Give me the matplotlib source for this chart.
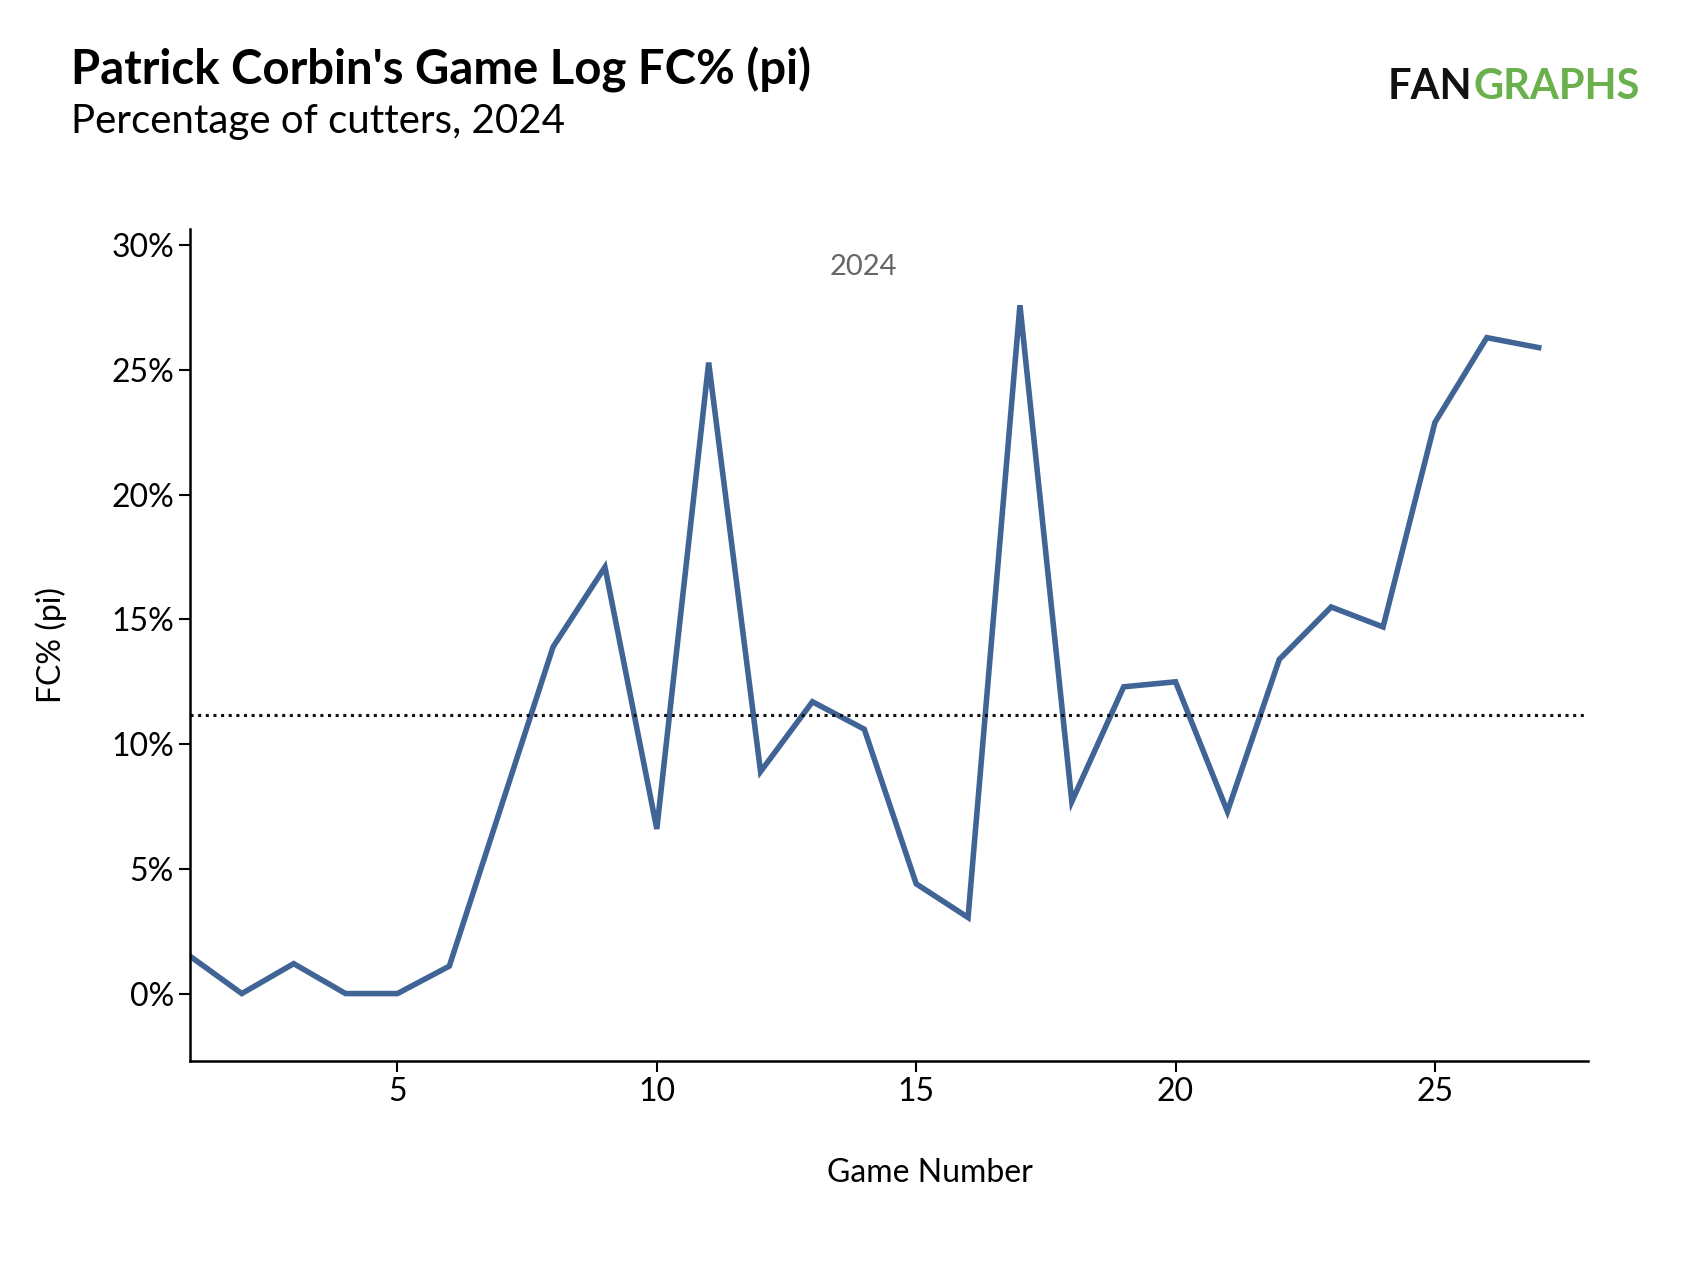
import matplotlib.pyplot as plt

plt.rcParams['font.family'] = 'Lato'

games = list(range(1, 28))
fc_pct = [1.5, 0.0, 1.2, 0.0, 0.0, 1.1, 7.5, 13.9, 17.1, 6.6, 25.3, 8.9, 11.7, 10.6,
          4.4, 3.05, 27.6, 7.7, 12.3, 12.5, 7.3, 13.4, 15.5, 14.7, 22.9, 26.3, 25.9]
season_avg = 11.15
y_ticks = [0, 5, 10, 15, 20, 25, 30]
x_ticks = [5, 10, 15, 20, 25]

fig = plt.figure(figsize=(17.02, 12.66), dpi=100)
ax = fig.add_axes([0.1116, 0.162, 0.8214, 0.657])

ax.plot(games, fc_pct, color='#3f6495', linewidth=4, solid_joinstyle='miter')
ax.axhline(season_avg, color='#111111', linestyle=(0, (1, 1.5)), linewidth=2.2)

ax.set_xlim(1, 27.95)
ax.set_ylim(-2.7, 30.65)
ax.set_xticks(x_ticks)
ax.set_yticks(y_ticks)
ax.set_yticklabels([f'{v}%' for v in y_ticks])
ax.tick_params(labelsize=23, length=8, width=1.5)
for side in ['top', 'right']:
    ax.spines[side].set_visible(False)
for side in ['left', 'bottom']:
    ax.spines[side].set_linewidth(1.8)

ax.set_xlabel('Game Number', fontsize=23)
ax.xaxis.set_label_coords(0.529, -0.117)
ax.set_ylabel('FC% (pi)', fontsize=23)
ax.yaxis.set_label_coords(-0.088, 0.5)
ax.text(0.482, 0.97, '2024', transform=ax.transAxes, fontsize=21, color='#666666', ha='center', va='top')

fig.text(0.042, 0.945, "Patrick Corbin's Game Log FC% (pi)", fontsize=34, fontweight='bold', va='center')
fig.text(0.042, 0.904, 'Percentage of cutters, 2024', fontsize=29, va='center')
fig.text(0.815, 0.931, 'FAN', fontsize=30, fontweight='bold', color='#111111', va='center')
fig.text(0.866, 0.931, 'GRAPHS', fontsize=30, fontweight='bold', color='#6ab04c', va='center')

fig.savefig('out.png', dpi=100)
